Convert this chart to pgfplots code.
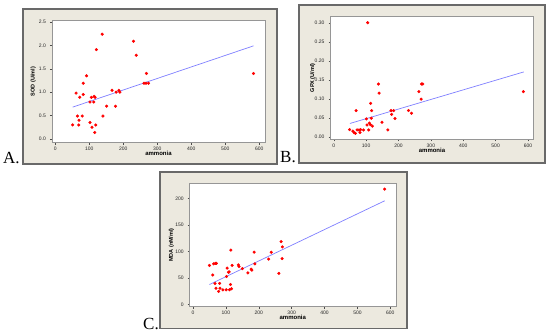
\documentclass[border=0pt]{standalone}
\usepackage{fontspec}
\setmainfont{Liberation Sans}
\newfontfamily\panelfont{Liberation Serif}
\usepackage{pgfplots}
\pgfplotsset{compat=1.18}
\definecolor{framebg}{RGB}{236,233,223}
\definecolor{frameline}{RGB}{105,105,105}
\definecolor{regline}{RGB}{128,128,255}
\definecolor{axgray}{RGB}{150,150,150}

\pgfplotsset{minitab/.style={
  scale only axis,
  axis background/.style={fill=white},
  axis line style={axgray, line width=0.6pt},
  tick align=outside, xtick pos=left, ytick pos=left,
  major tick length=2pt,
  tick style={black!70, line width=0.4pt},
  ticklabel style={font=\fontsize{5}{6}\selectfont, text=black!85},
  /pgf/number format/assume math mode=true,
  xmin=-10, xmax=617, xtick={0,100,...,600},
  xlabel={ammonia},
  xlabel style={font=\fontsize{6}{7}\selectfont\bfseries, at={(axis description cs:0.5,0)}, anchor=center, yshift=-11pt},
  ylabel style={font=\fontsize{5.5}{6}\selectfont\bfseries, at={(axis description cs:-0.088,0.5)}, anchor=center},
  xticklabel style={yshift=1pt},
  yticklabel style={xshift=-0.5pt},
}}
\pgfplotsset{pts/.style={only marks, mark=*, mark size=1.35pt, mark options={draw=red, fill=red}},
  fit/.style={regline, line width=0.7pt, no marks}}

\begin{document}
\begin{tikzpicture}
\useasboundingbox (0pt,0pt) rectangle (550pt,336pt);
% frames
\draw[frameline, line width=1.2pt, fill=framebg] (23pt,172pt) rectangle (277pt,327pt);
\draw[frameline, line width=1.2pt, fill=framebg] (299pt,173pt) rectangle (545pt,331pt);
\draw[frameline, line width=1.2pt, fill=framebg] (160pt,7.5pt) rectangle (407pt,164pt);
% panel letters
\node[anchor=base west, font=\panelfont\fontsize{17}{17}\selectfont, inner sep=0pt] at (3pt,172.5pt) {A.};
\node[anchor=base west, font=\panelfont\fontsize{17}{17}\selectfont, inner sep=0pt] at (280pt,173pt) {B.};
\node[anchor=base west, font=\panelfont\fontsize{17}{17}\selectfont, inner sep=0pt] at (143pt,6pt) {C.};

% Panel A: SOD
\begin{axis}[minitab, at={(51.9pt,193.3pt)}, anchor=south west, width=213.2pt, height=122.1pt,
  ymin=-0.08, ymax=2.53, ytick={0,0.5,...,2.5},
  yticklabel style={/pgf/number format/.cd, fixed, fixed zerofill, precision=1},
  ylabel={SOD (U/ml)}]
\addplot[pts] coordinates {
(51,0.30) (61,0.98) (65,0.49) (70,0.40) (69,0.30) (72,0.89) (79,0.49) (82,1.19)
(82,0.95) (92,1.35) (102,0.35) (102,0.79) (106,0.89) (108,0.25) (113,0.79) (114,0.91)
(117,0.89) (116,0.14) (119,0.30) (121,1.91) (138,2.24) (140,0.49) (151,0.70) (167,1.04)
(177,0.70) (179,1.00) (187,1.04) (190,1.00) (230,2.09) (238,1.79) (261,1.19) (268,1.40)
(267,1.19) (274,1.19) (583,1.40)};
\addplot[fit] coordinates {(51,0.68) (583,1.99)};
\end{axis}

% Panel B: GPX
\begin{axis}[minitab, at={(330.5pt,196.6pt)}, anchor=south west, width=203pt, height=123.2pt,
  ymin=-0.007, ymax=0.318, ytick={0,0.05,...,0.31},
  yticklabel style={/pgf/number format/.cd, fixed, fixed zerofill, precision=2},
  ylabel={GPX (U/ml)}]
\addplot[pts] coordinates {
(49,0.019) (59,0.015) (63,0.011) (67,0.009) (69,0.069) (72,0.018) (78,0.018) (81,0.011)
(83,0.019) (92,0.018) (101,0.047) (103,0.031) (105,0.301) (108,0.018) (110,0.036) (113,0.032)
(114,0.088) (116,0.049) (117,0.069) (119,0.028) (138,0.139) (140,0.115) (149,0.038) (167,0.018)
(177,0.069) (179,0.059) (185,0.069) (189,0.048) (231,0.069) (240,0.062) (263,0.119) (270,0.099)
(271,0.139) (275,0.139) (586,0.119)};
\addplot[fit] coordinates {(50,0.035) (587,0.171)};
\end{axis}

% Panel C: MDA
\begin{axis}[minitab, at={(189.7pt,29.2pt)}, anchor=south west, width=206.2pt, height=123.5pt,
  ymin=-4, ymax=229, ytick={0,50,...,200},
  ylabel={MDA (nM/ml)}]
\addplot[pts] coordinates {
(50,74) (60,56) (63,77) (68,78) (71,78) (67,40) (70,31) (78,25) (81,40) (82,31)
(91,28) (101,28) (102,53) (104,69) (108,61) (110,62) (111,28) (114,38) (115,103) (117,30)
(119,74) (138,75) (140,72) (150,68) (167,60) (177,67) (179,65) (186,99) (188,77) (230,86)
(238,99) (261,59) (268,119) (271,87) (272,109) (583,218)};
\addplot[fit] coordinates {(50,38) (583,196)};
\end{axis}
\end{tikzpicture}
\end{document}
